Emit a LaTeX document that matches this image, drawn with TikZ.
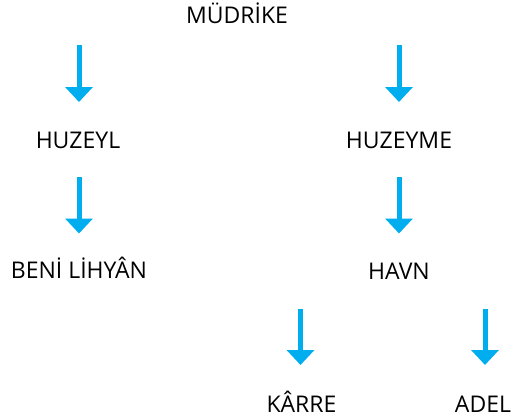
\documentclass[tikz,border=0pt]{standalone}
\usepackage{fontspec}
\setmainfont{Open Sans}
\usetikzlibrary{arrows.meta}
\begin{document}
\begin{tikzpicture}[x=1pt,y=-1pt,
  lbl/.style={anchor=base,inner sep=0pt,font=\fontsize{23}{26}\selectfont},
  arr/.style={draw=arrowblue,line width=5pt,-{Triangle[width=27pt,length=15pt]}}]
\definecolor{arrowblue}{HTML}{00AEEF}
\useasboundingbox (0,0) rectangle (514,420);
\node[lbl] (mudrike) at (237,23.5) {MÜDRİKE};
\node[lbl] (huzeyl) at (78,148) {HUZEYL};
\node[lbl] (huzeyme) at (399,148) {HUZEYME};
\node[lbl] (beni) at (79,278.5) {BENİ LİHYÂN};
\node[lbl] (havn) at (399,279) {HAVN};
\node[lbl] (karre) at (301.5,412) {KÂRRE};
\node[lbl] (adel) at (483,412) {ADEL};
\coordinate (a1s) at (79,45);  \coordinate (a1e) at (79,102);
\coordinate (a2s) at (399,45); \coordinate (a2e) at (399,102);
\coordinate (a3s) at (79,177); \coordinate (a3e) at (79,233.5);
\coordinate (a4s) at (399,177); \coordinate (a4e) at (399,233.5);
\coordinate (a5s) at (300.5,309); \coordinate (a5e) at (300.5,365);
\coordinate (a6s) at (485,309); \coordinate (a6e) at (485,365);
\foreach \i in {1,...,6} \draw[arr] (a\i s) -- (a\i e);
\end{tikzpicture}
\end{document}
